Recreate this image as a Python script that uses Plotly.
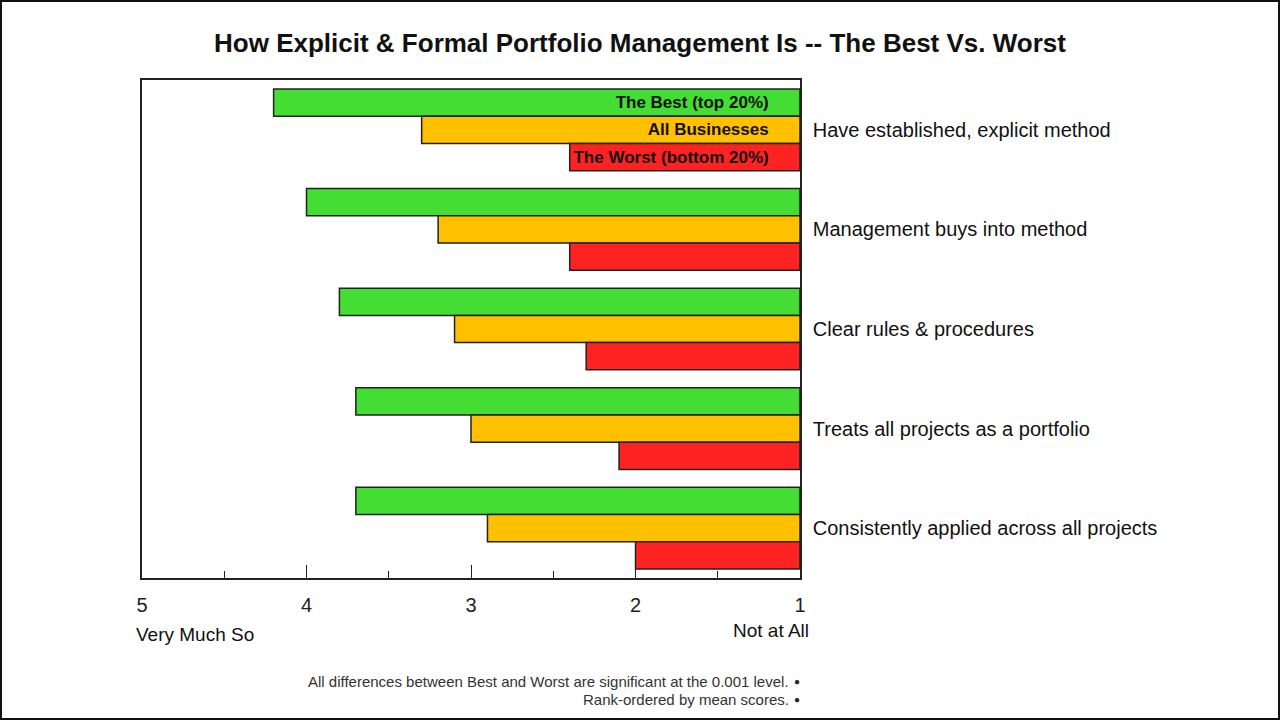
import plotly.graph_objects as go

categories = [
    "Have established, explicit method",
    "Management buys into method",
    "Clear rules & procedures",
    "Treats all projects as a portfolio",
    "Consistently applied across all projects",
]
series_names = ["The Best (top 20%)", "All Businesses", "The Worst (bottom 20%)"]
best_vals = [4.20, 4.00, 3.80, 3.70, 3.70]
all_vals = [3.30, 3.20, 3.10, 3.00, 2.90]
worst_vals = [2.40, 2.40, 2.30, 2.10, 2.00]
colors = ["#44DD33", "#FFC000", "#FF2222"]
tick_vals = [1, 2, 3, 4, 5]
tick_text = ["1", "2", "3", "4", "5"]
title_text = "How Explicit & Formal Portfolio Management Is -- The Best Vs. Worst"
footnotes = [
    "All differences between Best and Worst are significant at the 0.001 level.",
    "Rank-ordered by mean scores.",
]

SCALE_MIN = 1
L, R, T, B = 142, 480, 80, 142
W, H = 1280, 720
PW, PH = W - L - R, H - T - B

def px(x):
    return (x - L) / PW

def py(y):
    return (H - B - y) / PH

fig = go.Figure()
pad = "\u00a0" * 6
for name, vals, col in zip(series_names, [best_vals, all_vals, worst_vals], colors):
    fig.add_trace(go.Bar(
        y=categories,
        x=[v - SCALE_MIN for v in vals],
        base=SCALE_MIN,
        orientation="h",
        name=name,
        marker=dict(color=col, line=dict(color="#222222", width=1.5)),
        text=[name + pad] + [""] * (len(vals) - 1),
        textposition="inside",
        insidetextanchor="start",
        textangle=0,
        textfont=dict(family="Liberation Sans Narrow, Arial Narrow, Liberation Sans, Arial",
                      size=17, color="#111111", weight="bold"),
        constraintext="none",
        cliponaxis=False,
    ))

fig.update_layout(
    width=W, height=H,
    margin=dict(l=L, r=R, t=T, b=B),
    paper_bgcolor="white",
    plot_bgcolor="white",
    barmode="group",
    bargap=0.18,
    bargroupgap=0,
    showlegend=False,
    font=dict(family="Liberation Sans, Arial, sans-serif", color="#111111"),
    title=dict(text="<b>" + title_text + "</b>", x=0.5, xanchor="center",
               y=1 - 43 / H, yanchor="middle",
               font=dict(size=26, color="#111111",
                         family="Liberation Sans, Arial, sans-serif")),
    xaxis=dict(
        range=[5, 1],
        tickvals=tick_vals, ticktext=tick_text,
        ticks="inside", ticklen=13, tickwidth=1.2, tickcolor="#222222",
        minor=dict(dtick=0.5, tick0=1, ticks="inside", ticklen=7, tickwidth=1.2,
                   tickcolor="#222222", showgrid=False),
        showline=True, linecolor="#222222", linewidth=1.5, mirror=True,
        showgrid=False, zeroline=False,
        tickfont=dict(size=20, color="#222222"),
        ticklabelstandoff=8,
    ),
    yaxis=dict(
        side="right",
        autorange="reversed",
        showline=True, linecolor="#222222", linewidth=1.5, mirror=True,
        ticks="", showgrid=False, zeroline=False,
        tickfont=dict(size=20, color="#111111"),
        ticklabelstandoff=7,
    ),
)

fig.add_annotation(text="Very Much So", xref="paper", yref="paper",
                   x=px(134), y=py(634), xanchor="left", yanchor="middle",
                   showarrow=False, font=dict(size=19, color="#111111"))
fig.add_annotation(text="Not at All", xref="paper", yref="paper",
                   x=px(811), y=py(630), xanchor="right", yanchor="middle",
                   showarrow=False, font=dict(size=19, color="#111111"))

for note, yy in zip(footnotes, [681, 699]):
    fig.add_annotation(text=note, xref="paper", yref="paper",
                       x=px(791), y=py(yy), xanchor="right", yanchor="middle",
                       showarrow=False, font=dict(size=15, color="#333333"))
    fig.add_annotation(text="\u25cf", xref="paper", yref="paper",
                       x=px(797), y=py(yy), xanchor="center", yanchor="middle",
                       showarrow=False, font=dict(size=10, color="#222222"))

fig.add_shape(type="rect", xref="paper", yref="paper",
              x0=px(1), x1=px(1279), y0=py(719), y1=py(1),
              line=dict(color="#111111", width=2), layer="above")

fig.write_html("out.html", config={"displayModeBar": False},
               post_script="document.body.style.margin='0px';")
